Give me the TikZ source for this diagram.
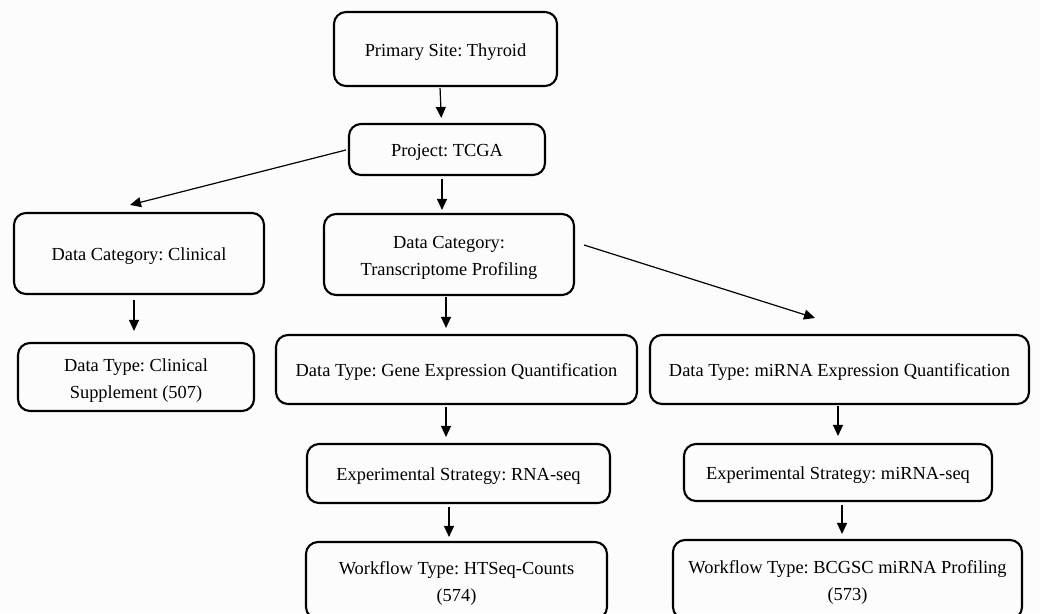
\documentclass[tikz,border=0pt]{standalone}
\usepackage{fontspec}
\setmainfont{Liberation Serif}
\usetikzlibrary{arrows.meta}
\frenchspacing
\begin{document}
\begin{tikzpicture}[x=1pt,y=-1pt,
  box/.style={draw=black,line width=2.1pt,rounded corners=12pt,inner sep=0pt},
  lab/.style={align=center,inner sep=0pt,yshift=-3pt,font=\fontsize{18.4}{27}\selectfont},
  arr/.style={line width=1.2pt,-{Triangle[length=11pt,width=10pt]}}]
\useasboundingbox (0,0) rectangle (1040,613);
\fill[fill={rgb,255:red,252;green,252;blue,252}] (0,0) rectangle (1040,613);
\begin{scope}
\clip (0,0) rectangle (1040,613);
\node[box,minimum width=223pt,minimum height=74pt,label={[lab]center:{Primary Site: Thyroid}}] (prim) at (445.5,49) {};
\node[box,minimum width=196pt,minimum height=51pt,label={[lab]center:{Project: TCGA}}] (proj) at (447,149.5) {};
\node[box,minimum width=250pt,minimum height=81pt,label={[lab]center:{Data Category: Clinical}}] (cat1) at (139,253.5) {};
\node[box,minimum width=250pt,minimum height=81pt,label={[lab]center:{Data Category:\\Transcriptome Profiling}}] (cat2) at (449,254.5) {};
\node[box,minimum width=236pt,minimum height=68pt,label={[lab,yshift=-1pt]center:{Data Type: Clinical\\Supplement (507)}}] (type1) at (136,377) {};
\node[box,minimum width=361pt,minimum height=69pt,label={[lab]center:{Data Type: Gene Expression Quantification}}] (type2) at (456.5,369.5) {};
\node[box,minimum width=379pt,minimum height=69pt,label={[lab]center:{Data Type: miRNA Expression Quantification}}] (type3) at (839.5,369.5) {};
\node[box,minimum width=303pt,minimum height=59pt,label={[lab]center:{Experimental Strategy: RNA-seq}}] (exp1) at (458.5,473.5) {};
\node[box,minimum width=308pt,minimum height=57pt,label={[lab]center:{Experimental Strategy: miRNA-seq}}] (exp2) at (838,472.5) {};
\node[box,minimum width=301pt,minimum height=77pt,label={[lab]center:{Workflow Type: HTSeq-Counts\\(574)}}] (wf1) at (456.5,580.5) {};
\node[box,minimum width=349pt,minimum height=79pt,label={[lab]center:{Workflow Type: BCGSC miRNA Profiling\\(573)}}] (wf2) at (847.5,579.5) {};
\end{scope}
\draw[arr,shorten <=1pt,shorten >=5pt] ([xshift=-5.5pt]prim.south) -- ([xshift=-5.5pt]proj.north);
\draw[arr,shorten <=3pt,shorten >=3pt] ([xshift=-5pt]proj.south) -- ([xshift=-7pt]cat2.north);
\draw[arr] ([xshift=-2pt,yshift=-0.5pt]proj.west) -- ([xshift=-9pt,yshift=7pt]cat1.north);
\draw[arr] ([xshift=9pt,yshift=9.5pt]cat2.east) -- ([xshift=-24.5pt,yshift=16pt]type3.north);
\draw[arr,shorten <=5pt,shorten >=11pt] ([xshift=-5pt]cat1.south) -- ([xshift=-2pt]type1.north);
\draw[arr,shorten <=1pt,shorten >=6pt] ([xshift=-3pt]cat2.south) -- ([xshift=-10.5pt]type2.north);
\draw[arr,shorten <=2pt,shorten >=6pt] ([xshift=-10.5pt]type2.south) -- ([xshift=-12.5pt]exp1.north);
\draw[arr,shorten <=1pt,shorten >=7pt] ([xshift=-1.5pt]type3.south) -- (exp2.north);
\draw[arr,shorten <=3pt,shorten >=4pt] ([xshift=-9.5pt]exp1.south) -- ([xshift=-7.5pt]wf1.north);
\draw[arr,shorten <=3pt,shorten >=5pt] ([xshift=4pt]exp2.south) -- ([xshift=-5.5pt]wf2.north);
\end{tikzpicture}
\end{document}
